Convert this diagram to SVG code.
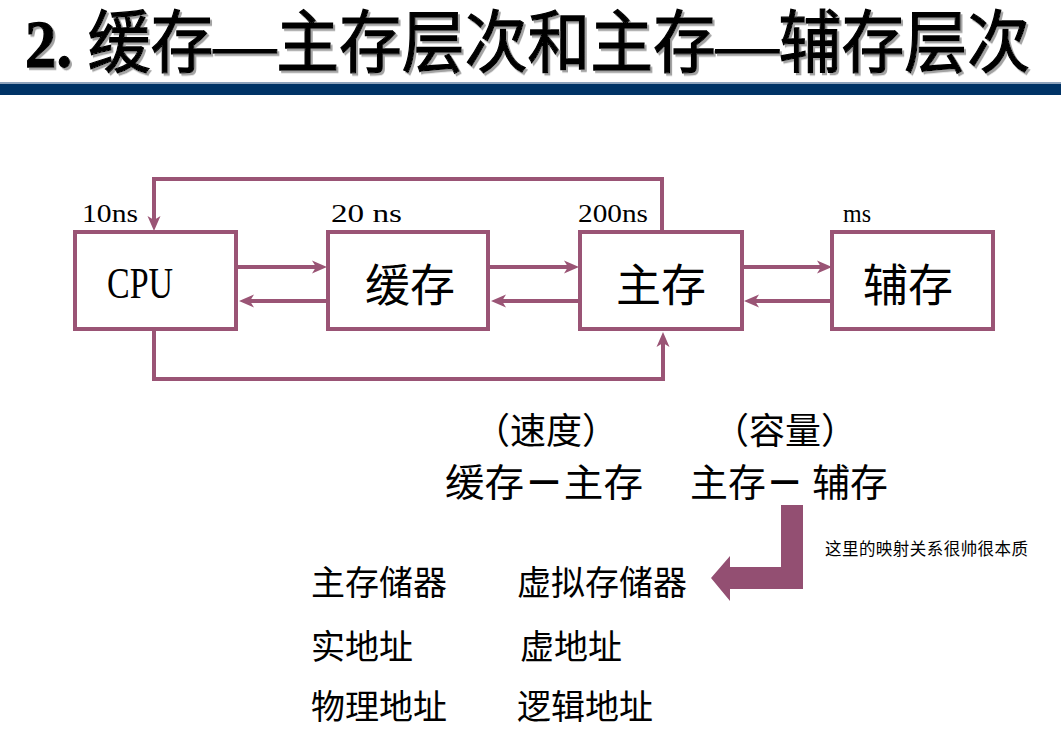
<svg xmlns="http://www.w3.org/2000/svg" width="1061" height="729" viewBox="0 0 1061 729">
<defs>
<style>
.box{fill:#fff;stroke:#9A5475;stroke-width:4}
.con{fill:none;stroke:#9A5475;stroke-width:4}
.lbl{font-family:"Liberation Serif","Noto Sans CJK SC",serif;font-size:25px;fill:#000}
.big{font-family:"Liberation Serif","Noto Sans CJK SC",serif;font-size:44px;fill:#000}
.cjk{font-family:"Noto Sans CJK SC","Noto Sans CJK JP",sans-serif;fill:#000}
</style>
<marker id="ah" markerUnits="userSpaceOnUse" markerWidth="16" markerHeight="16" viewBox="0 0 16 16" refX="6" refY="8" orient="auto">
<path d="M0,1.5 L15,8 L0,14.5 L4,8 z" fill="#9A5475"/>
</marker>
<filter id="sh" x="-5%" y="-20%" width="110%" height="140%">
<feDropShadow dx="2" dy="2" stdDeviation="0.6" flood-color="#999" flood-opacity="0.9"/>
</filter>
</defs>
<rect width="1061" height="729" fill="#fff"/>
<g id="title">
<text x="25" y="0" transform="translate(0,67) scale(1,1.14)" font-family="Liberation Serif,'Noto Sans CJK SC',serif" font-size="60" stroke="#000" stroke-width="1.1" textLength="1005" lengthAdjust="spacingAndGlyphs" filter="url(#sh)"><tspan font-weight="bold">2. </tspan>缓存—主存层次和主存—辅存层次</text>
<rect x="0" y="82" width="1061" height="2" fill="#8FA3BC"/>
<rect x="0" y="84" width="1061" height="11" fill="#003366"/>
</g>
<g id="connectors">
<line class="con" x1="238" y1="267" x2="318" y2="267" marker-end="url(#ah)"/>
<line class="con" x1="326" y1="301" x2="248" y2="301" marker-end="url(#ah)"/>
<line class="con" x1="490" y1="267" x2="570" y2="267" marker-end="url(#ah)"/>
<line class="con" x1="578" y1="301" x2="500" y2="301" marker-end="url(#ah)"/>
<line class="con" x1="744" y1="267" x2="823" y2="267" marker-end="url(#ah)"/>
<line class="con" x1="830" y1="301" x2="753" y2="301" marker-end="url(#ah)"/>
<path class="con" d="M662,230 V179 H154 V222" marker-end="url(#ah)"/>
<path class="con" d="M154,331 V379 H663 V341" marker-end="url(#ah)"/>
</g>
<g id="cpu">
<rect class="box" x="75" y="232" width="161" height="97"/>
<text class="big" x="107" y="298" font-size="42" textLength="66" lengthAdjust="spacingAndGlyphs">CPU</text>
<text class="lbl" x="82" y="222" textLength="56" lengthAdjust="spacingAndGlyphs">10ns</text>
</g>
<g id="cache">
<rect class="box" x="328" y="232" width="160" height="97"/>
<text class="cjk" x="410" y="302" font-size="45" text-anchor="middle">缓存</text>
<text class="lbl" x="331" y="222" textLength="71" lengthAdjust="spacingAndGlyphs">20 ns</text>
</g>
<g id="main">
<rect class="box" x="580" y="232" width="162" height="97"/>
<text class="cjk" x="661" y="302" font-size="45" text-anchor="middle">主存</text>
<text class="lbl" x="578" y="222" textLength="70" lengthAdjust="spacingAndGlyphs">200ns</text>
</g>
<g id="aux">
<rect class="box" x="832" y="232" width="161" height="97"/>
<text class="cjk" x="908" y="302" font-size="45" text-anchor="middle">辅存</text>
<text class="lbl" x="843" y="222" textLength="28" lengthAdjust="spacingAndGlyphs">ms</text>
</g>
<g id="levels">
<text class="cjk" x="546" y="444" font-size="36" text-anchor="middle">（速度）</text>
<text class="cjk" x="785" y="444" font-size="36" text-anchor="middle">（容量）</text>
<text class="cjk" x="445" y="496" font-size="38" textLength="198" lengthAdjust="spacingAndGlyphs">缓存<tspan font-weight="bold">－</tspan>主存</text>
<text class="cjk" x="690" y="496" font-size="38" textLength="198" lengthAdjust="spacingAndGlyphs">主存<tspan font-weight="bold">－</tspan> 辅存</text>
</g>
<g id="bent-arrow">
<polygon points="781,505 803,505 803,589 730,589 730,601 711,578 730,556 730,567 781,567" fill="#934F72"/>
</g>
<g id="note">
<text class="cjk" x="825" y="555" font-size="16.5" fill="#222" textLength="203">这里的映射关系很帅很本质</text>
</g>
<g id="terms">
<text class="cjk" x="311" y="595" font-size="34">主存储器</text>
<text class="cjk" x="517" y="595" font-size="34">虚拟存储器</text>
<text class="cjk" x="311" y="659" font-size="34">实地址</text>
<text class="cjk" x="520" y="659" font-size="34">虚地址</text>
<text class="cjk" x="311" y="719" font-size="34">物理地址</text>
<text class="cjk" x="517" y="719" font-size="34">逻辑地址</text>
</g>
</svg>
